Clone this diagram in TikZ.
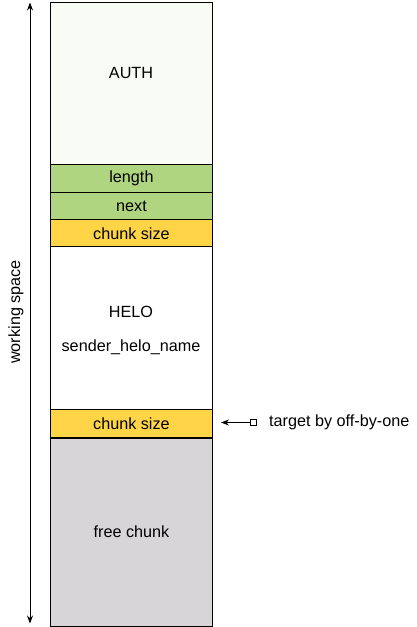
\documentclass[tikz,border=0pt]{standalone}
\usepackage{fontspec}
\setmainfont{Liberation Sans}
\usetikzlibrary{arrows.meta}
\definecolor{authfill}{HTML}{F9FBF5}
\definecolor{greenfill}{HTML}{B0D580}
\definecolor{yellowfill}{HTML}{FFD447}
\definecolor{grayfill}{HTML}{D8D5D8}
\tikzset{
  cell/.style={draw=black, line width=0.9pt, minimum width=162pt, inner sep=0pt, anchor=north west, font=\fontsize{16.2}{19}\selectfont},
  lbl/.style={font=\fontsize{16.2}{19}\selectfont, inner sep=0pt},
  tip/.style={-{Stealth[length=8pt,width=6pt]}},
}
\begin{document}
\begin{tikzpicture}[x=1pt,y=-1pt]
\useasboundingbox (0,0) rectangle (417,627);
\node[cell, fill=authfill, minimum height=162.3pt] (auth) at (50,2) {};
\node[lbl] (authtxt) at (131,73) {AUTH};
\node[cell, fill=greenfill, minimum height=28pt] (len) at (50,164.3) {length};
\node[cell, fill=greenfill, minimum height=27pt] (next) at (50,192.3) {next};
\node[cell, fill=yellowfill, minimum height=27pt] (cs1) at (50,219.3) {chunk size};
\node[cell, fill=white, minimum height=162.7pt] (helo) at (50,246.3) {};
\node[lbl] (helotxt) at (131,312) {HELO};
\node[lbl] (sendertxt) at (131,347) {sender\_helo\_name};
\node[cell, fill=yellowfill, minimum height=28pt] (cs2) at (50,409) {chunk size};
\node[cell, fill=grayfill, minimum height=188.6pt] (free) at (50,437) {free chunk};
\draw[line width=2pt] (cs2.south west) -- (cs2.south east);
\coordinate (top) at (30,2.5);
\coordinate (bot) at (30,623.5);
\draw[line width=0.9pt, {Stealth[length=8pt,width=6pt]}-{Stealth[length=8pt,width=6pt]}] (top) -- (bot);
\node[lbl, rotate=90] (ws) at (16,312) {working space};
\node[draw=black, fill=white, line width=0.8pt, minimum size=6pt, inner sep=0pt] (sq) at (253,422.5) {};
\node[lbl, anchor=west] (tgt) at (269,422) {target by off-by-one};
\coordinate (tipend) at (221,422.5);
\draw[line width=0.9pt, tip] (sq.west) -- (tipend);
\end{tikzpicture}
\end{document}
